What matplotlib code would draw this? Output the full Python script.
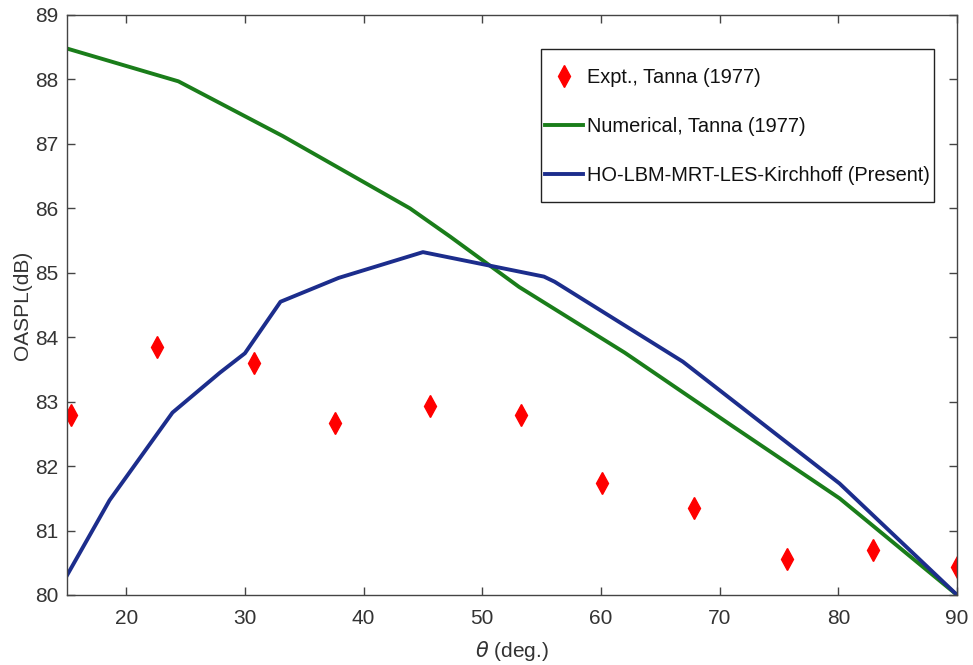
import matplotlib
matplotlib.use('Agg')
import matplotlib.pyplot as plt
from matplotlib.patches import Rectangle

# experimental data (red diamonds)
theta_exp = [15.35, 22.6, 30.75, 37.6, 45.6, 53.3, 60.05, 67.8, 75.7, 82.9, 90.0]
oaspl_exp = [82.79, 83.85, 83.6, 82.67, 82.93, 82.8, 81.74, 81.35, 80.56, 80.7, 80.43]

# numerical, Tanna (green)
theta_num = [15, 24.4, 33.2, 43.9, 47.3, 53.1, 62, 71, 80.1, 90]
oaspl_num = [88.48, 87.97, 87.12, 86.0, 85.56, 84.78, 83.76, 82.63, 81.5, 80.0]

# present LES (blue)
theta_les = [15, 18.6, 23.9, 27.9, 30.0, 33.0, 37.9, 45.0, 55.2, 56.1, 66.9, 80.1, 90]
oaspl_les = [80.3, 81.47, 82.83, 83.45, 83.75, 84.55, 84.92, 85.32, 84.94, 84.86, 83.62, 81.73, 80.0]

xticks = [20, 30, 40, 50, 60, 70, 80, 90]
yticks = [80, 81, 82, 83, 84, 85, 86, 87, 88, 89]

plt.rcParams['font.family'] = ['Liberation Sans', 'DejaVu Sans']
txt = '#333333'

fig = plt.figure(figsize=(9.73, 6.65), dpi=100)
ax = fig.add_axes([0.0687, 0.1053, 0.9149, 0.8722])

ax.plot(theta_exp, oaspl_exp, 'd', color='#ff0000', markersize=11, linestyle='none',
        label='Expt., Tanna (1977)')
ax.plot(theta_num, oaspl_num, color='#1a7d1a', lw=2.8, label='Numerical, Tanna (1977)')
ax.plot(theta_les, oaspl_les, color='#1c2d8c', lw=2.8,
        label='HO-LBM-MRT-LES-Kirchhoff (Present)')

ax.set_xlim(15, 90)
ax.set_ylim(80, 89)
ax.set_xticks(xticks)
ax.set_yticks(yticks)
ax.tick_params(direction='in', length=6, width=1, colors='#444444', labelcolor=txt,
               labelsize=15, top=True, right=True)
ax.tick_params(axis='x', pad=10)
ax.tick_params(axis='y', pad=6)
for s in ax.spines.values():
    s.set_color('#444444')
    s.set_linewidth(1.0)

ax.set_xlabel(r'$\theta$ (deg.)', fontsize=15, color=txt)
ax.set_ylabel('OASPL(dB)', fontsize=15, color=txt)
ax.xaxis.set_label_coords(0.5, -0.076)
ax.yaxis.set_label_coords(-0.039, 0.5)

leg = ax.legend(loc='upper left', bbox_to_anchor=(545 / 973, 1 - 68 / 665),
                bbox_transform=fig.transFigure, frameon=False, fontsize=14.4,
                borderpad=0, borderaxespad=0, handlelength=1.9, handletextpad=0.2,
                labelspacing=1.5)
for t in leg.get_texts():
    t.set_color('#111111')

# legend frame with MATLAB-like padding
fig.canvas.draw()
bb = leg.get_window_extent()
W, H = fig.bbox.width, fig.bbox.height
fig.add_artist(Rectangle(((bb.x0 - 4) / W, (bb.y0 - 17) / H), (bb.width + 8) / W,
                         (bb.height + 36) / H, transform=fig.transFigure,
                         fill=False, ec='#222222', lw=1.0))

fig.savefig('out.png', dpi=100)
